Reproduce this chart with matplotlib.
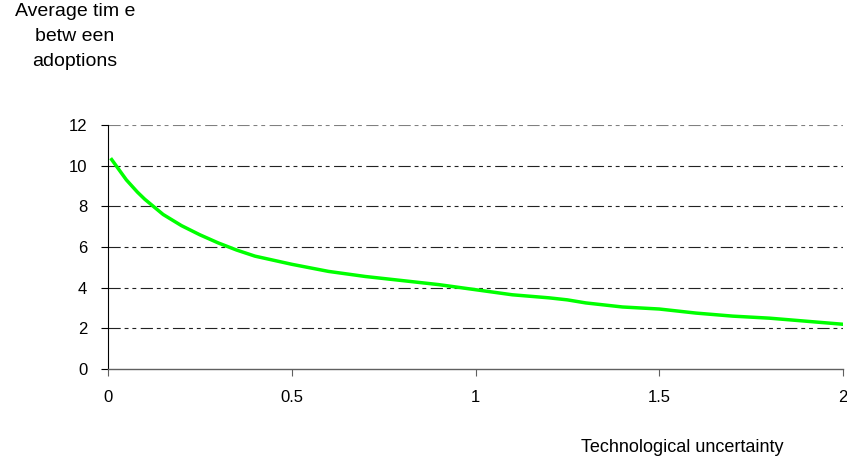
import matplotlib.pyplot as plt

# curve
uncertainty = [0.01, 0.03, 0.05, 0.08, 0.1, 0.15, 0.2, 0.25, 0.3, 0.35, 0.4, 0.45, 0.5,
               0.6, 0.7, 0.75, 0.8, 0.9, 1.0, 1.1, 1.2, 1.25, 1.3, 1.4, 1.5, 1.6,
               1.7, 1.8, 1.9, 2.0]
avg_time = [10.3, 9.8, 9.3, 8.7, 8.35, 7.6, 7.05, 6.6, 6.2, 5.85, 5.55, 5.35, 5.15,
            4.8, 4.55, 4.45, 4.35, 4.15, 3.9, 3.65, 3.5, 3.4, 3.25, 3.05, 2.95, 2.75,
            2.6, 2.5, 2.35, 2.2]

y_ticks = [0, 2, 4, 6, 8, 10, 12]
x_ticks = [0, 0.5, 1, 1.5, 2]
x_labels = ['0', '0.5', '1', '1.5', '2']

plt.rcParams['font.family'] = ['Liberation Sans', 'DejaVu Sans']

fig = plt.figure(figsize=(8.47, 4.65), dpi=100)
ax = fig.add_axes([108 / 847, (465 - 369) / 465, 735 / 847, 244 / 465])

# long - short - short dashes like the old excel gridlines
dash = (0, (11, 3.5, 3.5, 3.5, 3.5, 4))
for v in y_ticks[1:]:
    ax.axhline(v, color='#808080' if v == 12 else '#222222', lw=0.8,
               linestyle=dash, zorder=1)

ax.plot(uncertainty, avg_time, color='#00ff00', lw=2.5, zorder=3)

ax.set_xlim(0, 2)
ax.set_ylim(0, 12)
ax.set_xticks(x_ticks)
ax.set_xticklabels(x_labels)
ax.set_yticks(y_ticks)

for s in ['top', 'right']:
    ax.spines[s].set_visible(False)
ax.spines['left'].set_color('black')
ax.spines['bottom'].set_color('#606060')
ax.spines['bottom'].set_linewidth(1.0)
ax.tick_params(axis='both', direction='out', length=5, width=0.8, labelsize=12,
               colors='black')
ax.tick_params(axis='x', pad=10, color='#606060')
ax.tick_params(axis='y', pad=10)

fig.text(75 / 847, 1 - 3 / 465, 'Average tim e\nbetw een\nadoptions', ha='center',
         va='top', fontsize=14, linespacing=1.6, transform=fig.transFigure)
fig.text(682 / 847, 1 - 447 / 465, 'Technological uncertainty', ha='center',
         va='center', fontsize=13, transform=fig.transFigure)

fig.savefig('out.png', dpi=100)
